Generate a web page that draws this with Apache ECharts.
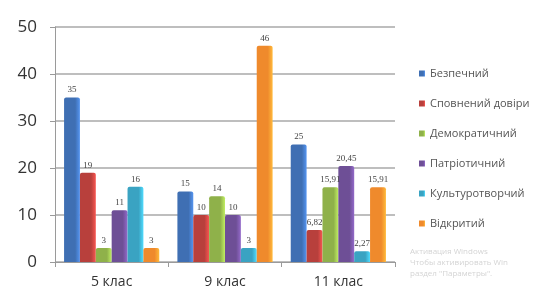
<!DOCTYPE html>
<html>
<head>
<meta charset="utf-8">
<script src="https://cdn.jsdelivr.net/npm/echarts@6/dist/echarts.min.js"></script>
<style>
  html, body { margin: 0; padding: 0; background: #fff; }
  #chart { width: 554px; height: 304px; }
</style>
</head>
<body>
<div id="chart"></div>
<script>
const categories = ['5 клас', '9 клас', '11 клас'];
const seriesNames = ['Безпечний', 'Сповнений довіри', 'Демократичний', 'Патріотичний', 'Культуротворчий', 'Відкритий'];
const bezpechnyi = [35, 15, 25];
const spovnenyi = [19, 10, 6.82];
const demokratychnyi = [3, 14, 15.91];
const patriotychnyi = [11, 10, 20.45];
const kulturotvorchyi = [16, 3, 2.27];
const vidkrytyi = [3, 46, 15.91];
const yTicks = [0, 10, 20, 30, 40, 50];

const colors = ['#3f6fb3', '#b8403c', '#8fb14a', '#6e4f96', '#3aa3c2', '#ef8a2c'];
const values = [bezpechnyi, spovnenyi, demokratychnyi, patriotychnyi, kulturotvorchyi, vidkrytyi];

// darker right edge to mimic the 3D bars
function shade(c) {
  return new echarts.graphic.LinearGradient(0, 0, 1, 0, [
    { offset: 0, color: c },
    { offset: 0.7, color: c },
    { offset: 1, color: echarts.color.lift(c, -0.35) }
  ]);
}

const chart = echarts.init(document.getElementById('chart'));
chart.setOption({
  animation: false,
  color: colors,
  grid: { left: 55, right: 159, top: 27, bottom: 42 },
  legend: {
    orient: 'vertical',
    left: 414,
    top: 63,
    itemWidth: 6,
    itemHeight: 6,
    itemGap: 19,
    icon: 'rect',
    textStyle: { fontSize: 11, color: '#555', fontFamily: 'Open Sans' },
    data: seriesNames
  },
  xAxis: {
    type: 'category',
    data: categories,
    axisLine: { lineStyle: { color: '#9a9a9a' } },
    axisTick: { show: true, lineStyle: { color: '#9a9a9a' } },
    axisLabel: { fontSize: 14, color: '#333', margin: 13, fontFamily: 'Open Sans' }
  },
  yAxis: {
    type: 'value',
    min: yTicks[0],
    max: yTicks[yTicks.length - 1],
    interval: 10,
    axisLine: { show: true, lineStyle: { color: '#9a9a9a' } },
    axisTick: { show: true, lineStyle: { color: '#9a9a9a' } },
    axisLabel: { fontSize: 17, color: '#333', margin: 18, fontFamily: 'Open Sans' },
    splitLine: { lineStyle: { color: '#a8a8a8', width: 1.5 } }
  },
  series: seriesNames.map((name, i) => ({
    name: name,
    type: 'bar',
    data: values[i],
    barGap: '0%',
    barCategoryGap: '16%',
    itemStyle: { color: shade(colors[i]), borderRadius: [2, 2, 0, 0] },
    label: {
      show: true,
      position: 'top',
      distance: 3,
      fontSize: 9,
      color: '#444',
      fontFamily: 'Liberation Serif',
      formatter: p => String(p.value).replace('.', ',')
    }
  })),
  graphic: [{
    type: 'text',
    left: 410,
    top: 246,
    style: {
      text: 'Активация Windows\nЧтобы активировать Win\nраздел "Параметры".',
      fontSize: 8,
      lineHeight: 11,
      fill: '#d4d4d4',
      fontFamily: 'Open Sans'
    }
  }]
});
</script>
</body>
</html>
